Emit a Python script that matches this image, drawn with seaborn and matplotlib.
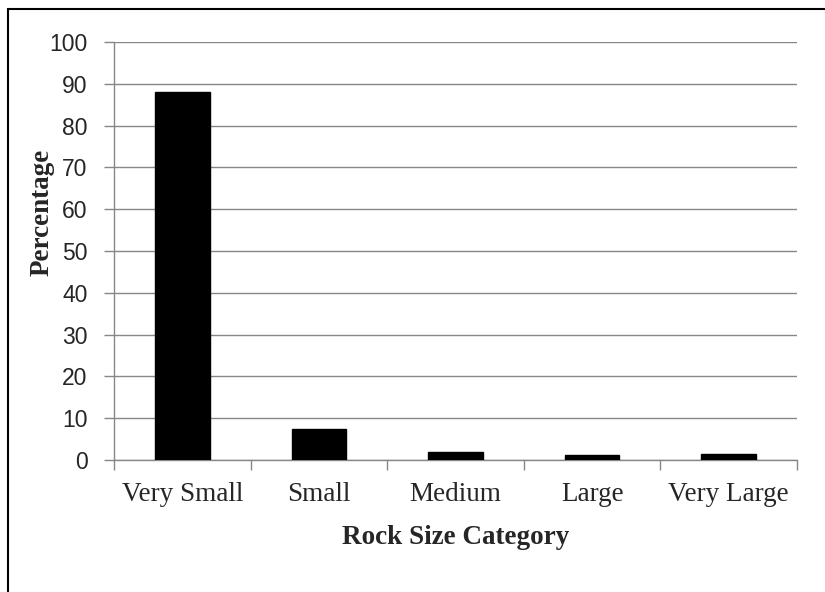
import matplotlib
matplotlib.use("Agg")
import matplotlib.pyplot as plt
from matplotlib.patches import Rectangle
import pandas as pd
import seaborn as sns

# values
categories = ["Very Small", "Small", "Medium", "Large", "Very Large"]
percentages = [88.0, 7.4, 2.0, 1.1, 1.4]
y_ticks = [0, 10, 20, 30, 40, 50, 60, 70, 80, 90, 100]

df = pd.DataFrame({"category": categories, "percentage": percentages})

sns.set_theme(style="white")
plt.rcParams["font.family"] = ["Liberation Sans", "DejaVu Sans"]

grid_col = "#878787"
serif = ["Liberation Serif", "DejaVu Serif"]

fig = plt.figure(figsize=(8.25, 5.92), dpi=100)
ax = fig.add_axes([114 / 825, 1 - 460 / 592, (797 - 114) / 825, (460 - 42) / 592])

sns.barplot(data=df, x="category", y="percentage", color="black",
            width=0.4, saturation=1, ax=ax, zorder=3)
for bar in ax.patches:
    bar.set_edgecolor("black")

ax.set_ylim(0, 100)
ax.set_xlim(-0.5, len(categories) - 0.5)
ax.set_yticks(y_ticks)
ax.set_yticklabels([str(t) for t in y_ticks], fontsize=16.5,
                   family=["Liberation Sans", "DejaVu Sans"])

# category labels between the boundary ticks
ax.set_xticks([i - 0.5 for i in range(len(categories) + 1)])
ax.set_xticklabels([])
ax.set_xticks(range(len(categories)), minor=True)
ax.set_xticklabels(categories, minor=True, fontsize=19.5, family=serif)
ax.tick_params(axis="x", which="major", direction="out", length=7,
               width=1, color=grid_col, bottom=True)
ax.tick_params(axis="x", which="minor", length=0, pad=16)
ax.tick_params(axis="y", direction="out", length=7, width=1,
               color=grid_col, left=True, pad=12)

ax.yaxis.grid(True, color=grid_col, linewidth=1.0, zorder=0)
ax.set_axisbelow(True)
for side in ("top", "right"):
    ax.spines[side].set_visible(False)
for side in ("left", "bottom"):
    ax.spines[side].set_color(grid_col)
    ax.spines[side].set_linewidth(1.0)

ax.set_xlabel("Rock Size Category", fontsize=19.5, fontweight="bold",
              family=serif, labelpad=13)
ax.set_ylabel("Percentage", fontsize=19.5, fontweight="bold", family=serif,
              va="center")
ax.yaxis.set_label_coords(-0.105, 0.593)

# frame around the chart (only top and left edges are visible)
fig.patches.append(Rectangle((8 / 825, -0.1), 1.2, 1.1 - 9 / 592,
                             transform=fig.transFigure, fill=False,
                             edgecolor="black", linewidth=1.5))

fig.savefig("out.png", dpi=100)
